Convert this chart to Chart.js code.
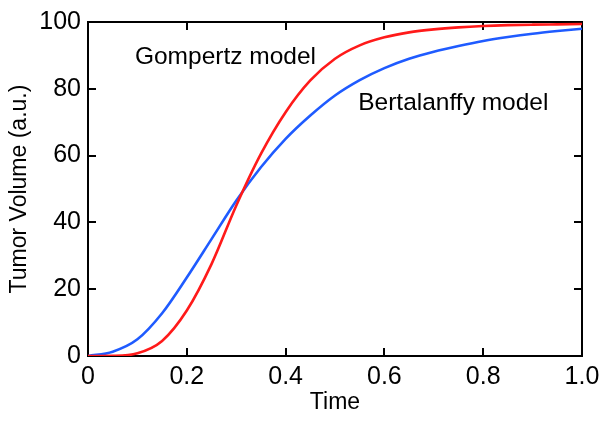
<!DOCTYPE html>
<html>
<head>
<meta charset="utf-8">
<script src="https://cdn.jsdelivr.net/npm/chart.js@4"></script>
<style>
  body { margin: 0; background: #fff; }
  #wrap { width: 609px; height: 422px; }
</style>
</head>
<body>
<div id="wrap"><canvas id="Chart" width="609" height="422"></canvas></div>
<script>
// values (time step 0.05)
const time = [0, 0.05, 0.1, 0.15, 0.2, 0.25, 0.3, 0.35, 0.4, 0.45, 0.5,
              0.55, 0.6, 0.65, 0.7, 0.75, 0.8, 0.85, 0.9, 0.95, 1.0];
const gompertz = [0, 0.05, 0.8, 4.5, 13.6, 27.5, 45, 60.5, 73, 82.5, 89,
                  93, 95.4, 96.9, 97.8, 98.4, 98.8, 99.05, 99.2, 99.3, 99.4];
const bertalanffy = [0, 1.3, 5.0, 12.8, 23.5, 35, 46.5, 56.5, 65, 72, 78,
                     82.6, 86.2, 89.0, 91.1, 92.8, 94.3, 95.5, 96.5, 97.3, 98];
const xTicks = [0, 0.2, 0.4, 0.6, 0.8, 1.0];
const yTicks = [0, 20, 40, 60, 80, 100];
const notes = [
  { text: 'Gompertz model', x: 0.095, y: 87.3 },
  { text: 'Bertalanffy model', x: 0.547, y: 73.8 }
];

const FONT = "'Liberation Sans', Arial, Helvetica, sans-serif";

function pts(ys) {
  return time.map((t, i) => ({ x: t, y: ys[i] }));
}

// frame with inward ticks on all four sides
const framePlugin = {
  id: 'frame',
  beforeDatasetsDraw(chart) {
    const c = chart.ctx, a = chart.chartArea;
    const sx = chart.scales.x, sy = chart.scales.y;
    const len = 8;
    c.save();
    c.strokeStyle = '#000';
    c.lineWidth = 2;
    c.strokeRect(a.left, a.top, a.right - a.left, a.bottom - a.top);
    c.beginPath();
    xTicks.forEach(v => {
      const px = Math.round(sx.getPixelForValue(v));
      c.moveTo(px, a.bottom); c.lineTo(px, a.bottom - len);
      c.moveTo(px, a.top); c.lineTo(px, a.top + len);
    });
    yTicks.forEach(v => {
      const py = Math.round(sy.getPixelForValue(v));
      c.moveTo(a.left, py); c.lineTo(a.left + len, py);
      c.moveTo(a.right, py); c.lineTo(a.right - len, py);
    });
    c.stroke();
    c.restore();
  },
  afterDatasetsDraw(chart) {
    const c = chart.ctx;
    const sx = chart.scales.x, sy = chart.scales.y;
    c.save();
    c.fillStyle = '#000';
    c.font = '24.5px ' + FONT;
    c.textAlign = 'left';
    c.textBaseline = 'alphabetic';
    notes.forEach(n => {
      c.fillText(n.text, sx.getPixelForValue(n.x), sy.getPixelForValue(n.y));
    });
    c.restore();
  }
};

const ctx = document.getElementById('Chart');
const chart = new Chart(ctx, {
  type: 'line',
  data: {
    datasets: [{
        label: 'Gompertz model',
        data: pts(gompertz),
        borderColor: '#ff1a1a',
        borderWidth: 2.6,
        pointRadius: 0,
        fill: false,
        cubicInterpolationMode: 'monotone'
      },
      {
        label: 'Bertalanffy model',
        data: pts(bertalanffy),
        borderColor: '#1f5bff',
        borderWidth: 2.6,
        pointRadius: 0,
        fill: false,
        cubicInterpolationMode: 'monotone'
      }
    ]
  },
  options: {
    responsive: false,
    animation: false,
    layout: { padding: { top: 19, right: 27, left: 0, bottom: 0 } },
    plugins: {
      legend: { display: false },
      tooltip: { enabled: false }
    },
    scales: {
      x: {
        type: 'linear',
        min: 0,
        max: 1,
        border: { display: false },
        grid: { display: false, drawTicks: false },
        afterBuildTicks(scale) { scale.ticks = xTicks.map(v => ({ value: v })); },
        afterFit(scale) { scale.height = 66; },
        ticks: {
          color: '#000',
          padding: 6,
          maxRotation: 0,
          font: { family: FONT, size: 25 },
          callback: v => v === 0 ? '0' : v.toFixed(1)
        },
        title: {
          display: true,
          text: 'Time',
          color: '#000',
          padding: { top: 0, bottom: 6 },
          font: { family: FONT, size: 23 }
        }
      },
      y: {
        min: 0,
        max: 100,
        border: { display: false },
        grid: { display: false, drawTicks: false },
        afterBuildTicks(scale) { scale.ticks = yTicks.map(v => ({ value: v })); },
        afterFit(scale) { scale.width = 88; },
        ticks: {
          color: '#000',
          padding: 7,
          font: { family: FONT, size: 25 }
        },
        title: {
          display: true,
          text: 'Tumor Volume (a.u.)',
          color: '#000',
          padding: { top: 6, bottom: 0 },
          font: { family: FONT, size: 23 }
        }
      }
    }
  },
  plugins: [framePlugin]
});
</script>
</body>
</html>
